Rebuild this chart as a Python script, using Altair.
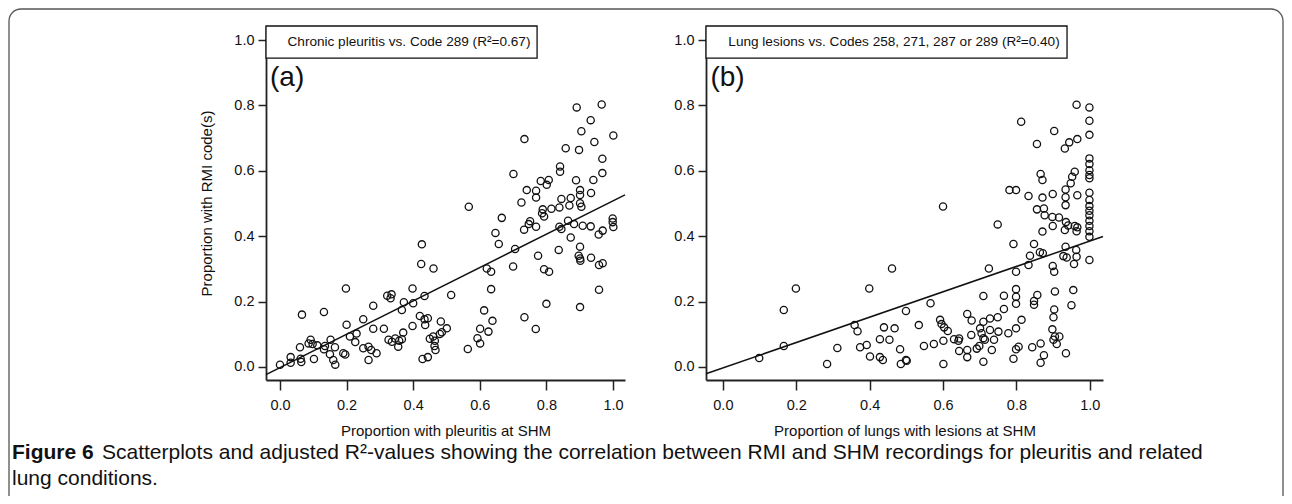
import altair as alt
import pandas as pd

# ---------------- data ----------------
a_x = [0.891, 0.966, 0.933, 0.905, 1.001, 0.734, 0.944, 0.858, 0.898, 0.968,
       0.841, 0.841, 0.701, 0.968, 0.783, 0.807, 0.801, 0.889, 0.941, 0.741,
       0.769, 0.769, 0.901, 0.901, 0.934, 0.725, 0.567, 0.845, 0.873, 0.901,
       0.905, 0.869, 0.839, 0.815, 0.789, 0.787, 0.793, 0.666, 0.751, 0.747,
       0.769, 0.733, 0.839, 0.845, 0.865, 0.883, 0.909, 0.933, 0.969, 0.957,
       0.999, 0.999, 1.001, 0.647, 0.657, 0.873, 0.901, 0.837, 0.426, 0.706,
       0.775, 0.897, 0.901, 0.902, 0.934, 0.958, 0.969, 0.424, 0.461, 0.621,
       0.634, 0.700, 0.793, 0.808, 0.434, 0.514, 0.634, 0.958, 0.800, 0.901,
       0.613, 0.638, 0.734, 0.601, 0.626, 0.768, 0.593, 0.601, 0.564, 0.420,
       0.434, 0.444, 0.436, 0.483, 0.501, 0.450, 0.460, 0.465, 0.480, 0.486,
       0.464, 0.467, 0.428, 0.444,
       0.198, 0.066, 0.132, 0.280, 0.322, 0.335, 0.332, 0.372, 0.398, 0.400,
       0.366, 0.250, 0.200, 0.230, 0.210, 0.226, 0.280, 0.312, 0.370, 0.398,
       0.326, 0.336, 0.346, 0.358, 0.366, 0.355, 0.290, 0.266, 0.250, 0.266,
       0.274, 0.190, 0.196, 0.152, 0.165, 0.150, 0.160, 0.166, 0.132, 0.135,
       0.092, 0.098, 0.112, 0.086, 0.060, 0.102, 0.032, 0.032, 0.062, 0.064,
       0.000]
a_y = [0.794, 0.803, 0.755, 0.721, 0.708, 0.697, 0.688, 0.669, 0.664, 0.637,
       0.613, 0.597, 0.590, 0.593, 0.569, 0.572, 0.557, 0.571, 0.572, 0.541,
       0.539, 0.518, 0.541, 0.526, 0.532, 0.503, 0.490, 0.514, 0.517, 0.501,
       0.490, 0.494, 0.488, 0.484, 0.482, 0.470, 0.460, 0.456, 0.446, 0.437,
       0.429, 0.420, 0.429, 0.422, 0.447, 0.437, 0.432, 0.430, 0.417, 0.405,
       0.454, 0.443, 0.428, 0.410, 0.376, 0.396, 0.368, 0.358, 0.375, 0.361,
       0.340, 0.340, 0.332, 0.325, 0.334, 0.312, 0.317, 0.315, 0.301, 0.301,
       0.291, 0.307, 0.299, 0.291, 0.217, 0.220, 0.238, 0.236, 0.193, 0.183,
       0.173, 0.141, 0.152, 0.117, 0.108, 0.116, 0.088, 0.072, 0.055, 0.156,
       0.146, 0.149, 0.128, 0.139, 0.118, 0.086, 0.093, 0.080, 0.101, 0.106,
       0.064, 0.052, 0.024, 0.030,
       0.240, 0.160, 0.168, 0.187, 0.218, 0.222, 0.210, 0.198, 0.240, 0.195,
       0.174, 0.146, 0.129, 0.102, 0.093, 0.076, 0.117, 0.117, 0.105, 0.125,
       0.083, 0.077, 0.087, 0.080, 0.085, 0.062, 0.042, 0.021, 0.057, 0.062,
       0.052, 0.042, 0.038, 0.083, 0.060, 0.039, 0.021, 0.007, 0.054, 0.064,
       0.083, 0.070, 0.066, 0.072, 0.060, 0.024, 0.030, 0.013, 0.025, 0.015,
       0.007]

b_x = [0.813, 0.903, 0.856, 0.866, 0.871, 0.781, 0.799, 0.833, 0.871, 0.899,
       0.600, 0.856, 0.875, 0.877, 0.898, 0.916, 0.749, 0.899, 0.871, 0.792,
       0.848,
       0.837, 0.864, 0.872, 0.833, 0.899, 0.903, 0.799, 0.725, 0.461, 0.799,
       0.799, 0.799, 0.766, 0.766, 0.710, 0.848, 0.848, 0.857, 0.905, 0.903,
       0.901, 0.566, 0.499, 0.666, 0.678, 0.592, 0.596, 0.603, 0.613, 0.728,
       0.749, 0.710, 0.814, 0.701, 0.728, 0.751, 0.778, 0.799, 0.898, 0.901,
       0.910, 0.534, 0.468, 0.439, 0.677, 0.705, 0.710, 0.714, 0.739, 0.428,
       0.454, 0.548, 0.575, 0.601, 0.630, 0.644, 0.642, 0.644, 0.666, 0.666,
       0.692, 0.699, 0.733, 0.710, 0.792, 0.799, 0.806, 0.843, 0.866, 0.875,
       0.866, 0.483, 0.485, 0.499, 0.501, 0.428, 0.436, 0.601,
       0.199, 0.399, 0.166, 0.359, 0.367, 0.166, 0.099, 0.284, 0.312, 0.374,
       0.392, 0.401,
       0.964, 0.999, 0.999, 0.999, 0.966, 0.944, 0.932, 0.999, 0.999, 0.999,
       0.999, 0.999, 0.959, 0.952, 0.948, 0.934, 0.934, 0.934, 0.966, 0.999,
       0.999, 0.999, 0.999, 0.999, 0.999, 0.999, 0.999, 0.999, 0.935, 0.941,
       0.932, 0.959, 0.966, 0.964, 0.934, 0.928, 0.937, 0.963, 0.964, 0.957,
       0.999, 0.955, 0.950, 0.905, 0.917, 0.935]
b_y = [0.750, 0.722, 0.682, 0.590, 0.572, 0.541, 0.541, 0.523, 0.518, 0.529,
       0.491, 0.482, 0.485, 0.464, 0.459, 0.457, 0.436, 0.431, 0.414, 0.376,
       0.376,
       0.340, 0.351, 0.348, 0.312, 0.309, 0.291, 0.291, 0.301, 0.301, 0.238,
       0.215, 0.193, 0.218, 0.177, 0.217, 0.202, 0.190, 0.220, 0.231, 0.176,
       0.152, 0.195, 0.171, 0.162, 0.142, 0.144, 0.131, 0.121, 0.110, 0.148,
       0.152, 0.138, 0.144, 0.118, 0.113, 0.108, 0.103, 0.118, 0.115, 0.083,
       0.070, 0.128, 0.118, 0.121, 0.098, 0.103, 0.088, 0.083, 0.083, 0.085,
       0.083, 0.064, 0.070, 0.080, 0.085, 0.087, 0.080, 0.049, 0.052, 0.030,
       0.056, 0.064, 0.052, 0.016, 0.025, 0.054, 0.062, 0.060, 0.072, 0.036,
       0.013, 0.054, 0.009, 0.021, 0.019, 0.030, 0.021, 0.009,
       0.240, 0.240, 0.174, 0.128, 0.109, 0.064, 0.027, 0.009, 0.058, 0.060,
       0.067, 0.032,
       0.802, 0.794, 0.753, 0.710, 0.697, 0.687, 0.668, 0.638, 0.621, 0.602,
       0.587, 0.577, 0.597, 0.582, 0.562, 0.543, 0.519, 0.495, 0.525, 0.533,
       0.511, 0.492, 0.478, 0.464, 0.447, 0.431, 0.415, 0.398, 0.443, 0.433,
       0.419, 0.431, 0.427, 0.415, 0.368, 0.339, 0.335, 0.358, 0.337, 0.315,
       0.327, 0.235, 0.189, 0.093, 0.093, 0.042]

# fitted lines (intercept, slope)
a_fit = [-0.002, 0.51]
b_fit = [-0.003, 0.388]

ticks = [0.0, 0.2, 0.4, 0.6, 0.8, 1.0]
a_title = "Chronic pleuritis vs. Code 289 (R\u00b2=0.67)"
b_title = "Lung lesions vs. Codes 258, 271, 287 or 289 (R\u00b2=0.40)"
a_xlabel = "Proportion with pleuritis at SHM"
b_xlabel = "Proportion of lungs with lesions at SHM"
ylabel = "Proportion with RMI code(s)"
cap_bold = "Figure 6"
cap_line1 = ("Scatterplots and adjusted R\u00b2-values showing the correlation between RMI "
             "and SHM recordings for pleuritis and related")
cap_line2 = "lung conditions."

# ---------------- layout ----------------
W, H = 1276, 488
FONT = "Liberation Sans"
XA_DOM, XA_RNG = [-0.042, 1.036], [258, 617]
XB_DOM, XB_RNG = [-0.046, 1.036], [698, 1095]
Y_DOM, Y_RNG = [-0.04, 1.043], [372, 18]
AXIS_Y_PIX = 372


def xs(dom, rng):
    return alt.Scale(domain=dom, range=rng, nice=False, zero=False)


def panel(px, py, fit, xdom, xrng, xlabel, title, tag, box_right, show_ytitle):
    pts = pd.DataFrame({"x": px, "y": py})
    xaxis = alt.Axis(values=ticks, format=".1f", orient="bottom",
                     offset=AXIS_Y_PIX - H, tickSize=10, tickWidth=1.5,
                     domainWidth=1.8, domainColor="#222", tickColor="#222",
                     labelFont=FONT, labelFontSize=14.5, labelColor="#111",
                     labelPadding=8, grid=False, title=xlabel,
                     titleFont=FONT, titleFontSize=15, titleFontWeight="normal",
                     titleColor="#111", titlePadding=12)
    yaxis = alt.Axis(values=ticks, format=".1f", orient="left",
                     offset=-xrng[0], tickSize=8, tickWidth=1.5,
                     domainWidth=1.8, domainColor="#222", tickColor="#222",
                     labelFont=FONT, labelFontSize=14.5, labelColor="#111",
                     labelPadding=4, grid=False,
                     title=ylabel if show_ytitle else None,
                     titleFont=FONT, titleFontSize=15, titleFontWeight="normal",
                     titleColor="#111", titlePadding=19)
    points = alt.Chart(pts).mark_point(
        shape="circle", filled=False, size=52, strokeWidth=1.3, color="#111",
        opacity=1).encode(
        x=alt.X("x:Q", scale=xs(xdom, xrng), axis=xaxis),
        y=alt.Y("y:Q", scale=xs(Y_DOM, Y_RNG), axis=yaxis),
    )
    fx = xdom
    line_df = pd.DataFrame({"x": fx, "y": [fit[0] + fit[1] * v for v in fx]})
    line = alt.Chart(line_df).mark_line(color="#111", strokeWidth=1.5).encode(
        x=alt.X("x:Q", scale=xs(xdom, xrng), axis=None),
        y=alt.Y("y:Q", scale=xs(Y_DOM, Y_RNG), axis=None),
    )
    box_df = pd.DataFrame({"x": [xdom[0]], "x2": [box_right],
                           "y": [0.945], "y2": [Y_DOM[1]], "t": [title],
                           "tx": [box_right - 0.02], "ty": [0.994]})
    box = alt.Chart(box_df).mark_rect(fill="white", stroke="#111",
                                      strokeWidth=1.3).encode(
        x=alt.X("x:Q", scale=xs(xdom, xrng), axis=None), x2="x2:Q",
        y=alt.Y("y:Q", scale=xs(Y_DOM, Y_RNG), axis=None), y2="y2:Q",
    )
    box_text = alt.Chart(box_df).mark_text(
        align="right", baseline="middle", font=FONT, fontSize=13.6,
        color="#111").encode(
        x=alt.X("tx:Q", scale=xs(xdom, xrng), axis=None),
        y=alt.Y("ty:Q", scale=xs(Y_DOM, Y_RNG), axis=None),
        text="t:N",
    )
    tag_df = pd.DataFrame({"x": [xdom[0] + 0.012], "y": [0.884], "t": [tag]})
    tag_text = alt.Chart(tag_df).mark_text(
        align="left", baseline="middle", font=FONT, fontSize=28,
        color="#111").encode(
        x=alt.X("x:Q", scale=xs(xdom, xrng), axis=None),
        y=alt.Y("y:Q", scale=xs(Y_DOM, Y_RNG), axis=None),
        text="t:N",
    )
    return [points, line, box, box_text, tag_text]


layers = []
layers += panel(a_x, a_y, a_fit, XA_DOM, XA_RNG, a_xlabel, a_title, "(a)", 0.772, True)
layers += panel(b_x, b_y, b_fit, XB_DOM, XB_RNG, b_xlabel, b_title, "(b)", 0.938, False)

one = pd.DataFrame({"a": [0]})
border = alt.Chart(one).mark_rect(
    fillOpacity=0, stroke="#555", strokeWidth=1.3, cornerRadius=12).encode(
    x=alt.value(1), x2=alt.value(W - 1), y=alt.value(1), y2=alt.value(H + 40))

cap1b = alt.Chart(one).mark_text(
    align="left", baseline="middle", font=FONT, fontSize=21, fontWeight="bold",
    color="#111").encode(x=alt.value(4), y=alt.value(445), text=alt.value(cap_bold))
cap1 = alt.Chart(one).mark_text(
    align="left", baseline="middle", font=FONT, fontSize=21,
    color="#111").encode(x=alt.value(94), y=alt.value(445), text=alt.value(cap_line1))
cap2 = alt.Chart(one).mark_text(
    align="left", baseline="middle", font=FONT, fontSize=21,
    color="#111").encode(x=alt.value(4), y=alt.value(471), text=alt.value(cap_line2))

chart = alt.layer(border, *layers, cap1b, cap1, cap2).resolve_scale(
    x="independent", y="independent"
).resolve_axis(x="independent", y="independent").properties(
    width=W, height=H, autosize=alt.AutoSizeParams(type="none"), padding=0
).configure_view(stroke=None)

chart.save("out.html", embed_options={"renderer": "svg", "actions": False})
